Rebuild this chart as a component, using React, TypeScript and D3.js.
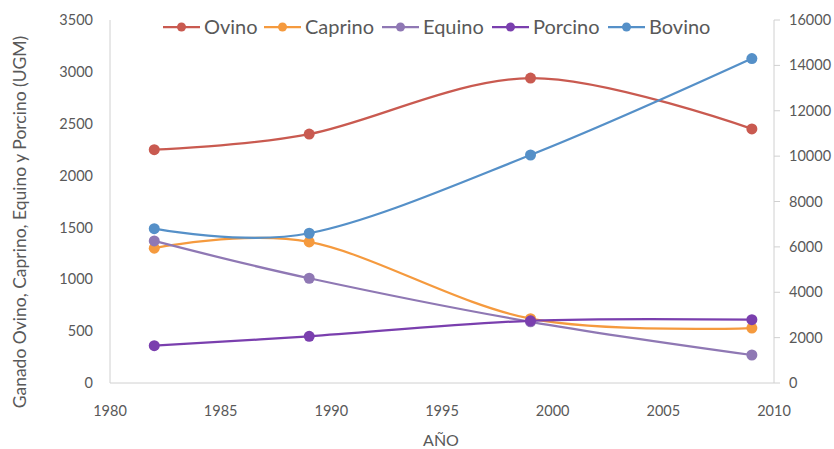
import React from 'react';
import * as d3 from 'd3';

const years = [1982, 1989, 1999, 2009];
const ovino = [2250, 2400, 2940, 2450];
const caprino = [1300, 1360, 620, 530];
const equino = [1370, 1010, 590, 270];
const porcino = [360, 450, 600, 610];
const bovino = [6800, 6600, 10050, 14300];

const xTicks = [1980, 1985, 1990, 1995, 2000, 2005, 2010];
const leftTicks = [0, 500, 1000, 1500, 2000, 2500, 3000, 3500];
const rightTicks = [0, 2000, 4000, 6000, 8000, 10000, 12000, 14000, 16000];

const seriesList = [
  {name: 'Ovino', values: ovino, color: '#c95a50', axis: 'left'},
  {name: 'Caprino', values: caprino, color: '#f59a3e', axis: 'left'},
  {name: 'Equino', values: equino, color: '#8f78b4', axis: 'left'},
  {name: 'Porcino', values: porcino, color: '#7a3fae', axis: 'left'},
  {name: 'Bovino', values: bovino, color: '#5590c8', axis: 'right'},
];

// legend item left edges
const legendX = [163, 264, 382, 492, 608];

const W = 834;
const H = 449;
const font = 'Lato, "Open Sans", sans-serif';
const textColor = '#595959';
const tickSize = 14.5;

export default function App() {
  const x = d3.scaleLinear().domain([1980, 2010]).range([110, 774]);
  const yL = d3.scaleLinear().domain([0, 3500]).range([383, 20]);
  const yR = d3.scaleLinear().domain([0, 16000]).range([383, 20]);

  const line = (scale: d3.ScaleLinear<number, number>) =>
    d3.line<number>()
      .x((_, i) => x(years[i]))
      .y(d => scale(d))
      .curve(d3.curveCardinal.tension(0));

  return (
    <svg width={W} height={H} style={{position: 'absolute', left: 0, top: 0, background: '#fff'}}>
      {/* axes */}
      <line x1={110} x2={110} y1={20} y2={383} stroke="#d0d0d0" />
      <line x1={774} x2={774} y1={20} y2={383} stroke="#d0d0d0" />
      <line x1={110} x2={774} y1={383} y2={383} stroke="#d0d0d0" />
      {rightTicks.map(t => (
        <line key={t} x1={774} x2={780} y1={yR(t)} y2={yR(t)} stroke="#d0d0d0" />
      ))}

      {leftTicks.map(t => (
        <text key={t} x={93} y={yL(t)} dy="0.35em" textAnchor="end" fontSize={tickSize}
              fontFamily={font} fill={textColor}>{t}</text>
      ))}
      {rightTicks.map(t => (
        <text key={t} x={789} y={yR(t)} dy="0.35em" textAnchor="start" fontSize={tickSize}
              fontFamily={font} fill={textColor}>{t}</text>
      ))}
      {xTicks.map(t => (
        <text key={t} x={x(t)} y={411} dy="0.35em" textAnchor="middle" fontSize={tickSize}
              fontFamily={font} fill={textColor}>{t}</text>
      ))}

      <text x={441} y={440} dy="0.35em" textAnchor="middle" fontSize={16}
            fontFamily={font} fill={textColor}>AÑO</text>
      <text transform="translate(20,222) rotate(-90)" dy="0.35em" textAnchor="middle" fontSize={17.5}
            fontFamily={font} fill={textColor}>Ganado Ovino, Caprino, Equino y Porcino (UGM)</text>

      {/* series */}
      {seriesList.map(s => {
        const scale = s.axis === 'left' ? yL : yR;
        return (
          <g key={s.name}>
            <path d={line(scale)(s.values) || ''} fill="none" stroke={s.color} strokeWidth={2.25} />
            {s.values.map((v, i) => (
              <circle key={i} cx={x(years[i])} cy={scale(v)} r={5.5} fill={s.color} />
            ))}
          </g>
        );
      })}

      {/* legend */}
      {seriesList.map((s, i) => (
        <g key={s.name} transform={`translate(${legendX[i]},27)`}>
          <line x1={0} x2={37} y1={0} y2={0} stroke={s.color} strokeWidth={2.25} />
          <circle cx={18.5} cy={0} r={4.5} fill={s.color} />
          <text x={41} y={0} dy="0.35em" fontSize={20} fontFamily={font} fill={textColor}>{s.name}</text>
        </g>
      ))}
    </svg>
  );
}
